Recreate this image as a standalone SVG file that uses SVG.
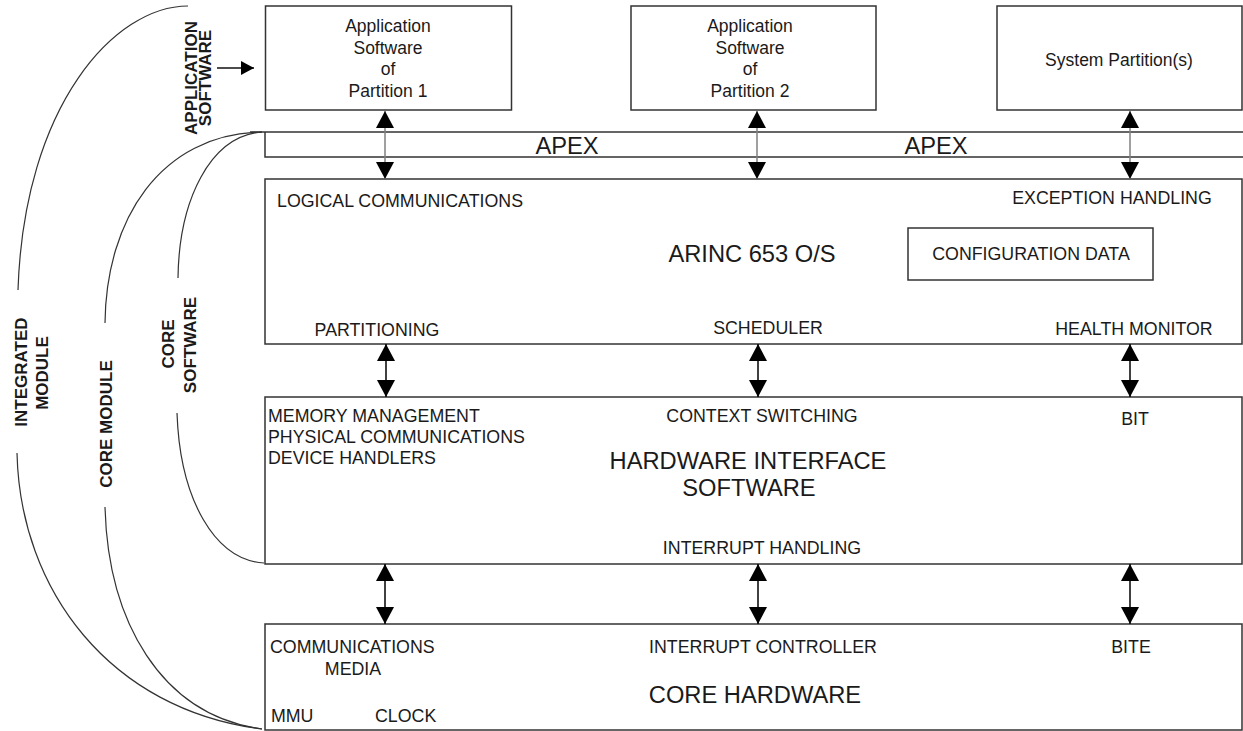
<svg xmlns="http://www.w3.org/2000/svg" width="1243" height="731" viewBox="0 0 1243 731">
<style>
  .box { fill: #ffffff; stroke: #333333; stroke-width: 1.5; }
  .band { fill: none; stroke: #333333; stroke-width: 1.5; }
  .curve { fill: none; stroke: #333333; stroke-width: 1.2; }
  .t { font-family: "Liberation Sans", Arial, sans-serif; font-size: 17.8px; fill: #1a1a1a; }
  .a { font-family: "Liberation Sans", Arial, sans-serif; font-size: 17.5px; fill: #1a1a1a; }
  .big { font-family: "Liberation Sans", Arial, sans-serif; font-size: 23.7px; fill: #1a1a1a; }
  .rot { font-family: "Liberation Sans", Arial, sans-serif; font-size: 17px; font-weight: bold; fill: #1a1a1a; text-anchor: middle; }
  .m { text-anchor: middle; }
  .link-gray { stroke: #808080; stroke-width: 1.5; fill: none; }
  .link { stroke: #111111; stroke-width: 1.6; fill: none; }
</style>
<defs>
  <marker id="head" viewBox="0 0 17 18" refX="17" refY="9" markerWidth="17" markerHeight="18" markerUnits="userSpaceOnUse" orient="auto-start-reverse">
    <path d="M0,0 L17,9 L0,18 z" fill="#000000"/>
  </marker>
  <marker id="small" viewBox="0 0 13 14" refX="13" refY="7" markerWidth="13" markerHeight="14" markerUnits="userSpaceOnUse" orient="auto">
    <path d="M0,0 L13,7 L0,14 z" fill="#000000"/>
  </marker>
</defs>
<rect x="0" y="0" width="1243" height="731" fill="#ffffff"/>

<g id="brackets">
  <path class="curve" d="M188,6 C115,6 24,105 18,290"/>
  <path class="curve" d="M17,453 C20,590 110,710 262,729"/>
  <path class="curve" d="M262,132 C160,134 106,220 105,323"/>
  <path class="curve" d="M105,507 C108,620 160,715 262,729"/>
  <path class="curve" d="M262,132 C210,136 179,200 178,278"/>
  <path class="curve" d="M177,413 C180,500 215,560 264,563"/>
  <text class="rot" transform="translate(197,78) rotate(-90)">APPLICATION</text>
  <text class="rot" transform="translate(211,78) rotate(-90)">SOFTWARE</text>
  <text class="rot" transform="translate(27,372) rotate(-90)">INTEGRATED</text>
  <text class="rot" transform="translate(48,373) rotate(-90)">MODULE</text>
  <text class="rot" transform="translate(112,424) rotate(-90)">CORE MODULE</text>
  <text class="rot" transform="translate(174,344) rotate(-90)">CORE</text>
  <text class="rot" transform="translate(196,345) rotate(-90)">SOFTWARE</text>
</g>

<g id="partition1">
  <rect class="box" x="265.5" y="6" width="246" height="104"/>
  <text class="a m" x="388" y="32">Application</text>
  <text class="a m" x="388" y="54">Software</text>
  <text class="a m" x="388" y="75">of</text>
  <text class="a m" x="388" y="97">Partition 1</text>
</g>

<g id="partition2">
  <rect class="box" x="631" y="6" width="245" height="104"/>
  <text class="a m" x="750" y="32">Application</text>
  <text class="a m" x="750" y="54">Software</text>
  <text class="a m" x="750" y="75">of</text>
  <text class="a m" x="750" y="97">Partition 2</text>
</g>

<g id="system-partitions">
  <rect class="box" x="997" y="6" width="245" height="104"/>
  <text class="a m" x="1119" y="66">System Partition(s)</text>
</g>

<g id="apex">
  <path class="band" d="M250,132 L1243,132 M265,132 L265,157 L1243,157"/>
  <text class="big m" x="567" y="154">APEX</text>
  <text class="big m" x="936" y="154">APEX</text>
</g>

<g id="arinc-os">
  <rect class="box" x="265" y="179" width="977" height="165"/>
  <text class="t" x="277" y="207">LOGICAL COMMUNICATIONS</text>
  <text class="t m" x="1112" y="204">EXCEPTION HANDLING</text>
  <text class="big m" x="752" y="262">ARINC 653 O/S</text>
  <text class="t m" x="377" y="336">PARTITIONING</text>
  <text class="t m" x="768" y="334">SCHEDULER</text>
  <text class="t m" x="1134" y="335">HEALTH MONITOR</text>
</g>

<g id="configuration-data">
  <rect class="box" x="908" y="228" width="245" height="52"/>
  <text class="t m" x="1031" y="260">CONFIGURATION DATA</text>
</g>

<g id="hardware-interface">
  <rect class="box" x="265" y="397" width="977" height="167"/>
  <text class="t" x="268" y="422">MEMORY MANAGEMENT</text>
  <text class="t" x="268" y="443">PHYSICAL COMMUNICATIONS</text>
  <text class="t" x="268" y="464">DEVICE HANDLERS</text>
  <text class="t m" x="762" y="422">CONTEXT SWITCHING</text>
  <text class="t m" x="1135" y="425">BIT</text>
  <text class="big m" x="748" y="469">HARDWARE INTERFACE</text>
  <text class="big m" x="749" y="496">SOFTWARE</text>
  <text class="t m" x="762" y="554">INTERRUPT HANDLING</text>
</g>

<g id="core-hardware">
  <rect class="box" x="265" y="624" width="977" height="106"/>
  <text class="t" x="270" y="653">COMMUNICATIONS</text>
  <text class="t m" x="353" y="675">MEDIA</text>
  <text class="t m" x="763" y="653">INTERRUPT CONTROLLER</text>
  <text class="t m" x="1131" y="653">BITE</text>
  <text class="big m" x="755" y="703">CORE HARDWARE</text>
  <text class="t" x="271" y="722">MMU</text>
  <text class="t" x="375" y="722">CLOCK</text>
</g>

<g id="connectors">
  <line class="link" x1="217" y1="68" x2="254" y2="68" marker-end="url(#small)"/>
  <line class="link-gray" x1="385" y1="111" x2="385" y2="179" marker-start="url(#head)" marker-end="url(#head)"/>
  <line class="link-gray" x1="757" y1="111" x2="757" y2="179" marker-start="url(#head)" marker-end="url(#head)"/>
  <line class="link-gray" x1="1130" y1="111" x2="1130" y2="179" marker-start="url(#head)" marker-end="url(#head)"/>
  <line class="link" x1="386" y1="344" x2="386" y2="397" marker-start="url(#head)" marker-end="url(#head)"/>
  <line class="link" x1="758" y1="344" x2="758" y2="397" marker-start="url(#head)" marker-end="url(#head)"/>
  <line class="link" x1="1130" y1="344" x2="1130" y2="397" marker-start="url(#head)" marker-end="url(#head)"/>
  <line class="link" x1="385" y1="564" x2="385" y2="624" marker-start="url(#head)" marker-end="url(#head)"/>
  <line class="link" x1="758" y1="564" x2="758" y2="624" marker-start="url(#head)" marker-end="url(#head)"/>
  <line class="link" x1="1130" y1="564" x2="1130" y2="624" marker-start="url(#head)" marker-end="url(#head)"/>
</g>
</svg>
